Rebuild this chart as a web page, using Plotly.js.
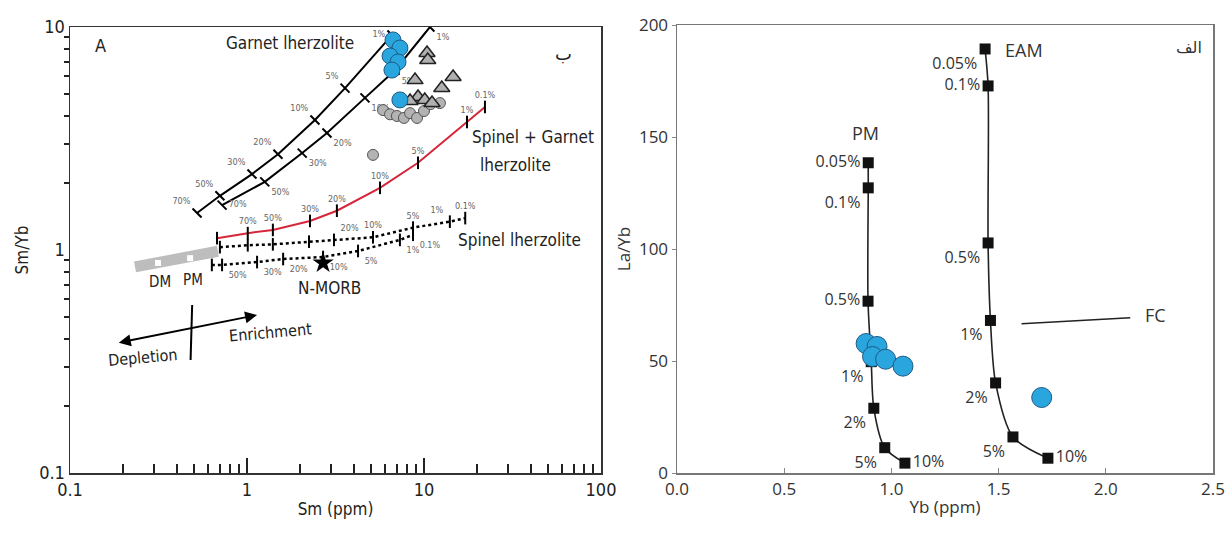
<!DOCTYPE html>
<html><head><meta charset="utf-8">
<script src="https://cdn.plot.ly/plotly-3.0.1.min.js"></script>
<style>html,body{margin:0;padding:0;background:#fff}</style>
</head><body><div id="chart" style="width:1229px;height:541px"></div>
<script>
// ---------- Left panel (Sm vs Sm/Yb, log-log) ----------
const gl1Sm   = [0.522, 0.703, 1.067, 1.496, 2.42, 3.58, 6.59];
const gl1SmYb = [1.466, 1.75, 2.19, 2.69, 3.83, 5.32, 9.2];
const gl1Lab  = ['70%','50%','30%','20%','10%','5%','1%'];

const gl2Sm   = [0.723, 1.26, 2.05, 2.83, 4.64, 6.86, 10.8];
const gl2SmYb = [1.59, 2.02, 2.72, 3.35, 4.81, 6.4, 10];
const gl2Lab  = ['70%','50%','30%','20%','10%','5%','1%'];

const sgSm    = [0.677, 1.01, 1.40, 2.27, 3.22, 5.64, 9.25, 17.5, 22.1];
const sgSmYb  = [1.13, 1.19, 1.23, 1.35, 1.50, 1.90, 2.46, 3.75, 4.38];
const sgLab   = ['', '70%','50%','30%','20%','10%','5%','1%','0.1%'];

const spUSm   = [0.703, 1.01, 1.40, 2.24, 3.10, 5.15, 8.67, 14.0, 17.1];
const spUSmYb = [1.03, 1.05, 1.06, 1.09, 1.11, 1.14, 1.26, 1.34, 1.39];
const spULab  = ['', '', '', '', '20%','10%','5%','1%','0.1%'];

const spLSm   = [0.633, 0.723, 1.14, 1.60, 2.69, 4.24, 7.31, 8.67];
const spLSmYb = [0.857, 0.857, 0.883, 0.911, 0.93, 0.99, 1.11, 1.17];
const spLLab  = ['', '50%','30%','20%','10%','5%','1%','0.1%'];

const bandSm = [0.233, 0.685];
const bandSmYb = [0.84, 0.987];
const dmpmSm = [0.314, 0.477];
const dmpmSmYb = [0.875, 0.919];

const morbSm = [2.69];
const morbSmYb = [0.875];

const blueSm   = [6.68, 7.31, 6.43, 7.13, 6.59, 7.31];
const blueSmYb = [8.75, 8.05, 7.41, 6.97, 6.41, 4.71];

const greySm   = [5.87, 6.43, 7.03, 7.70, 8.34, 9.13, 10.0, 10.9, 12.3, 5.15];
const greySmYb = [4.24, 4.06, 3.99, 3.91, 4.11, 3.91, 4.20, 4.51, 4.56, 2.67];

const triSm    = [10.4, 10.5, 14.6, 8.90, 12.6, 9.25, 10.1, 11.1, 8.34];
const triSmYb  = [7.64, 7.11, 5.97, 5.78, 5.33, 4.85, 4.71, 4.56, 4.66];

const crossSm = [0.48, 0.49];
const crossSmYb = [0.321, 0.567];
const arrowFrom = [0.185, 0.383];
const arrowTo = [1.14, 0.511];

const leftXTicks = [0.1, 1, 10, 100];
const leftXTickText = ['0.1', '1', '10', '100'];
const leftYTicks = [0.1, 1, 10];
const leftYTickText = ['0.1', '1', '10'];
const leftMinor = [0.2,0.3,0.4,0.5,0.6,0.7,0.8,0.9,2,3,4,5,6,7,8,9,20,30,40,50,60,70,80,90];

// ---------- Right panel (Yb vs La/Yb) ----------
const pmYb   = [0.892, 0.892, 0.891, 0.906, 0.918, 0.969, 1.063];
const pmLaYb = [138.5, 127.3, 76.7, 49.7, 28.9, 11.3, 4.4];
const pmLab  = ['0.05%','0.1%','0.5%','1%','2%','5%','10%'];

const eamYb   = [1.437, 1.451, 1.451, 1.462, 1.486, 1.567, 1.730];
const eamLaYb = [189.3, 172.8, 102.7, 68.1, 40.2, 16.1, 6.6];
const eamLab  = ['0.05%','0.1%','0.5%','1%','2%','5%','10%'];

const fcYb   = [1.607, 2.114];
const fcLaYb = [66.6, 69.3];

const sampYb   = [0.882, 0.933, 0.912, 0.973, 1.054, 1.701];
const sampLaYb = [57.8, 56.5, 52.0, 50.8, 47.7, 33.7];

// ---------- styling ----------
const NARROW = '"Liberation Sans Narrow", "DejaVu Sans Condensed", "Liberation Sans", sans-serif';
const RFONT = '"Open Sans", "Noto Sans", sans-serif';
const pctFont = {family: NARROW, size: 9, color: '#666'};
const rLabFont = {family: RFONT, size: 16, color: '#333'};
const L = Math.log10;

const tickLine = (sym) => ({symbol: sym, size: 9, color: '#000', line: {color: '#000', width: 2}});

const traces = [
  {x: bandSm, y: bandSmYb, mode: 'lines', line: {color: '#bdbdbd', width: 11}, xaxis: 'x', yaxis: 'y', hoverinfo: 'skip'},
  {x: dmpmSm, y: dmpmSmYb, mode: 'markers', marker: {symbol: 'square', size: 6, color: '#fff'}, xaxis: 'x', yaxis: 'y'},
  {x: gl1Sm, y: gl1SmYb, text: gl1Lab, mode: 'lines+markers+text', line: {color: '#000', width: 2},
   marker: tickLine('line-nw'), textposition: ['top left','top left','top left','top left','top left','top left','middle left'], textfont: pctFont, xaxis: 'x', yaxis: 'y'},
  {x: gl2Sm, y: gl2SmYb, text: gl2Lab, mode: 'lines+markers+text', line: {color: '#000', width: 2},
   marker: tickLine('line-nw'), textposition: ['middle right','bottom right','bottom right','bottom right','bottom right','bottom right','bottom right'], textfont: pctFont, xaxis: 'x', yaxis: 'y'},
  {x: sgSm, y: sgSmYb, text: sgLab, mode: 'lines+markers+text', line: {color: '#d6263a', width: 2},
   marker: tickLine('line-ns'), textposition: 'top center', textfont: pctFont, xaxis: 'x', yaxis: 'y'},
  {x: spUSm, y: spUSmYb, text: spULab, mode: 'lines+markers+text', line: {color: '#000', width: 2.5, dash: 'dot'},
   marker: tickLine('line-ns'), textposition: ['top center','top center','top center','top center','top right','top center','top center','top left','top center'], textfont: pctFont, xaxis: 'x', yaxis: 'y'},
  {x: spLSm, y: spLSmYb, text: spLLab, mode: 'lines+markers+text', line: {color: '#000', width: 2.5, dash: 'dot'},
   marker: tickLine('line-ns'), textposition: 'bottom right', textfont: pctFont, xaxis: 'x', yaxis: 'y'},
  {x: crossSm, y: crossSmYb, mode: 'lines', line: {color: '#000', width: 2}, xaxis: 'x', yaxis: 'y'},
  {x: morbSm, y: morbSmYb, mode: 'markers', marker: {symbol: 'star', size: 16, color: '#000'}, xaxis: 'x', yaxis: 'y'},
  {x: greySm, y: greySmYb, mode: 'markers', marker: {symbol: 'circle', size: 11, color: '#b3b3b3', line: {color: '#555', width: 1}}, xaxis: 'x', yaxis: 'y'},
  {x: triSm, y: triSmYb, mode: 'markers', marker: {symbol: 'triangle-up', size: 14, color: '#b0b0b0', line: {color: '#222', width: 1.5}}, xaxis: 'x', yaxis: 'y'},
  {x: blueSm, y: blueSmYb, mode: 'markers', marker: {symbol: 'circle', size: 16, color: '#2aa6df', line: {color: '#1d5a86', width: 1}}, xaxis: 'x', yaxis: 'y'},

  {x: pmYb, y: pmLaYb, text: pmLab, mode: 'lines+markers+text', line: {color: '#222', width: 1.6, shape: 'spline', smoothing: 0.8},
   marker: {symbol: 'square', size: 11, color: '#111'}, textposition: ['middle left','bottom left','middle left','bottom left','bottom left','bottom left','middle right'], textfont: rLabFont, xaxis: 'x2', yaxis: 'y2'},
  {x: eamYb, y: eamLaYb, text: eamLab, mode: 'lines+markers+text', line: {color: '#222', width: 1.6, shape: 'spline', smoothing: 0.8},
   marker: {symbol: 'square', size: 11, color: '#111'}, textposition: ['bottom left','middle left','bottom left','bottom left','bottom left','bottom left','middle right'], textfont: rLabFont, xaxis: 'x2', yaxis: 'y2'},
  {x: fcYb, y: fcLaYb, mode: 'lines', line: {color: '#222', width: 1.6}, xaxis: 'x2', yaxis: 'y2'},
  {x: sampYb, y: sampLaYb, mode: 'markers', marker: {symbol: 'circle', size: 20, color: '#2aa6df', line: {color: '#1d5a86', width: 1}}, xaxis: 'x2', yaxis: 'y2'}
];

const ann = (x, y, text, size, extra) => Object.assign({xref: 'x', yref: 'y', x: L(x), y: L(y), text: text, showarrow: false,
  font: {family: NARROW, size: size, color: '#222'}}, extra || {});
const ann2 = (x, y, text, size, extra) => Object.assign({xref: 'x2', yref: 'y2', x: x, y: y, text: text, showarrow: false,
  font: {family: RFONT, size: size, color: '#333'}}, extra || {});

const annotations = [
  ann(0.148, 8.3, 'A', 18),
  ann(61, 7.64, 'ب', 20, {font: {family: '"DejaVu Sans", sans-serif', size: 18, color: '#222'}}),
  ann(1.75, 8.47, 'Garnet lherzolite', 17),
  ann(41.3, 3.21, 'Spinel + Garnet', 17),
  ann(32.7, 2.40, 'lherzolite', 17),
  ann(34.8, 1.11, 'Spinel lherzolite', 17),
  ann(0.322, 0.719, 'DM', 15),
  ann(0.496, 0.734, 'PM', 15),
  ann(2.94, 0.676, 'N-MORB', 17),
  ann(1.35, 0.425, 'Enrichment', 16, {textangle: -5}),
  ann(0.258, 0.331, 'Depletion', 16, {textangle: -5}),
  {xref: 'x', yref: 'y', axref: 'x', ayref: 'y', x: L(arrowTo[0]), y: L(arrowTo[1]), ax: L(arrowFrom[0]), ay: L(arrowFrom[1]),
   text: '', showarrow: true, arrowhead: 2, arrowside: 'end+start', arrowsize: 1.2, arrowwidth: 2, arrowcolor: '#000'},
  ann2(0.88, 152, 'PM', 18),
  ann2(1.62, 189, 'EAM', 18),
  ann2(2.23, 70.5, 'FC', 18),
  ann2(2.39, 190, 'الف', 18, {font: {family: '"DejaVu Sans", sans-serif', size: 16, color: '#333'}})
];

const layout = {
  width: 1229, height: 541, autosize: false,
  margin: {l: 0, r: 0, t: 0, b: 0},
  paper_bgcolor: '#fff', plot_bgcolor: '#fff',
  showlegend: false,
  xaxis: {
    type: 'log', range: [-1, 2], domain: [70/1229, 601/1229], anchor: 'y',
    tickvals: leftXTicks, ticktext: leftXTickText, ticks: 'inside', ticklen: 15, tickwidth: 2, tickcolor: '#222',
    minor: {tickvals: leftMinor, ticks: 'inside', ticklen: 9, tickwidth: 2, tickcolor: '#222', showgrid: false},
    showgrid: false, zeroline: false, showline: true, mirror: true, linecolor: '#333', linewidth: 1.5,
    tickfont: {family: NARROW, size: 18, color: '#222'},
    title: {text: 'Sm (ppm)', font: {family: NARROW, size: 17, color: '#222'}, standoff: 4}
  },
  yaxis: {
    type: 'log', range: [-1, 1], domain: [1 - 473/541, 1 - 27/541], anchor: 'x',
    tickvals: leftYTicks, ticktext: leftYTickText, ticks: '',
    minor: {tickvals: leftMinor, ticks: 'outside', ticklen: 5, tickwidth: 2, tickcolor: '#222', showgrid: false},
    showgrid: false, zeroline: false, showline: true, mirror: true, linecolor: '#333', linewidth: 1.5,
    tickfont: {family: NARROW, size: 18, color: '#222'},
    title: {text: 'Sm/Yb', font: {family: NARROW, size: 17, color: '#222'}, standoff: 6}
  },
  xaxis2: {
    range: [0, 2.5], domain: [677/1229, 1213/1229], anchor: 'y2', dtick: 0.5, tickformat: '.1f',
    ticks: 'inside', ticklen: 5, tickcolor: '#888',
    showgrid: false, zeroline: false, showline: true, mirror: true, linecolor: '#777', linewidth: 1.5,
    tickfont: {family: RFONT, size: 17, color: '#333'},
    title: {text: 'Yb (ppm)', font: {family: RFONT, size: 17, color: '#333'}, standoff: 2}
  },
  yaxis2: {
    range: [0, 200], domain: [1 - 473/541, 1 - 25/541], anchor: 'x2', dtick: 50,
    ticks: 'outside', ticklen: 4, tickcolor: '#888',
    showgrid: false, zeroline: false, showline: true, mirror: true, linecolor: '#777', linewidth: 1.5,
    tickfont: {family: RFONT, size: 17, color: '#333'},
    title: {text: 'La/Yb', font: {family: RFONT, size: 17, color: '#333'}, standoff: 4}
  },
  annotations: annotations
};

Plotly.newPlot('chart', traces, layout, {displayModeBar: false, staticPlot: true});
</script></body></html>
